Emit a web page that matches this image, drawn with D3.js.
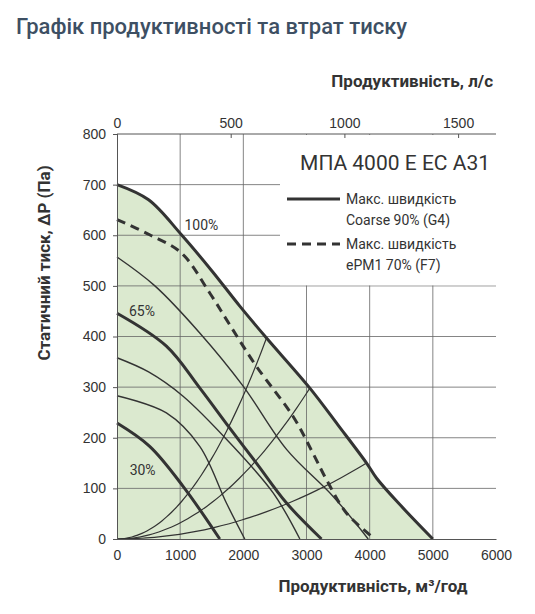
<!DOCTYPE html>
<html><head><meta charset="utf-8">
<script src="https://cdn.jsdelivr.net/npm/d3@7"></script>
<style>
body{margin:0;background:#fff;font-family:Roboto,"Open Sans",sans-serif;}
</style></head><body>
<div id="chart"></div>
<script>
// Flow (m3/h) vs static pressure (Pa)
const xTicks = [0, 1000, 2000, 3000, 4000, 5000, 6000];
const yTicks = [0, 100, 200, 300, 400, 500, 600, 700, 800];
const lsTicks = [0, 500, 1000, 1500];

const maxCurve = [[0,700],[500,670],[1020,601],[1500,530],[1944,460],[2367,397],[3053,298],[3500,225],[3951,150],[4110,120],[4500,65],[5000,0]];
const f7Curve = [[0,631],[517,601],[1020,565],[1468,486],[1800,420],[2207,341],[2788,242],[3100,170],[3317,117],[3634,51],[4083,0]];
const fanCurves = [
  {thick:false, pts:[[0,557],[600,500],[1310,407],[1997,302],[2684,177],[3422,84],[3977,0]]},
  {thick:true,  pts:[[0,446],[782,381],[1300,300],[1785,219],[2207,150],[2684,71],[3237,0]]},
  {thick:false, pts:[[0,358],[500,330],[1046,282],[1785,190],[2472,91],[2895,0]]},
  {thick:false, pts:[[0,283],[782,249],[1310,183],[1732,71],[2023,0]]},
  {thick:true,  pts:[[0,229],[517,183],[1046,104],[1627,0]]}
];
// system curves ending on the max curve
const systemEnds = [[2367,397],[3053,298],[3951,150]];
const speedLabels = [{t:"100%",x:1020,y:601,dx:3,dy:-5},{t:"65%",x:190,y:440,dx:0,dy:0},{t:"30%",x:200,y:126,dx:0,dy:0}];

const W = 535, H = 614;
const svg = d3.select('#chart').append('svg').attr('width', W).attr('height', H);

svg.append('text').attr('x', 16).attr('y', 34).attr('fill', '#3d4f63')
  .attr('font-size', 22).attr('font-weight', 500).text('Графік продуктивності та втрат тиску');

const x = d3.scaleLinear().domain([0, 6000]).range([117, 496]);
const y = d3.scaleLinear().domain([0, 800]).range([539, 134]);
const xl = d3.scaleLinear().domain([0, 6000 / 3.6]).range([117, 496]);

const curveType = d3.curveCatmullRom.alpha(0.5);
const line = d3.line().x(d => x(d[0])).y(d => y(d[1])).curve(curveType);
const area = d3.area().x(d => x(d[0])).y0(y(0)).y1(d => y(d[1])).curve(curveType);

svg.append('path').datum(maxCurve).attr('d', area).attr('fill', '#dbe9cf');

// grid
const g = svg.append('g');
g.selectAll('.vg').data(xTicks.slice(1, -1)).join('line')
  .attr('x1', d => x(d)).attr('x2', d => x(d)).attr('y1', y(0)).attr('y2', y(800))
  .attr('stroke', '#666').attr('stroke-width', 0.8);
g.selectAll('.hg').data(yTicks.slice(1, -1)).join('line')
  .attr('x1', x(0)).attr('x2', x(6000)).attr('y1', d => y(d)).attr('y2', d => y(d))
  .attr('stroke', '#666').attr('stroke-width', 0.8);

// legend background
svg.append('rect').attr('x', 280).attr('y', y(800) + 1).attr('width', x(6000) - 280)
  .attr('height', y(500) - y(800) - 1.5).attr('fill', '#fff');

const curves = svg.append('g').attr('fill', 'none').attr('stroke', '#333');
systemEnds.forEach(e => {
  const k = e[1] / (e[0] * e[0]);
  const pts = d3.range(0, e[0] + 1, e[0] / 30).map(v => [v, k * v * v]);
  curves.append('path').datum(pts).attr('d', line).attr('stroke-width', 1.2);
});
fanCurves.forEach(c => curves.append('path').datum(c.pts).attr('d', line)
  .attr('stroke-width', c.thick ? 3 : 1.4));
curves.append('path').datum(f7Curve).attr('d', line).attr('stroke-width', 3).attr('stroke-dasharray', '9,6');
curves.append('path').datum(maxCurve).attr('d', line).attr('stroke-width', 3);

speedLabels.forEach(l => svg.append('text').attr('x', x(l.x) + l.dx).attr('y', y(l.y) + l.dy)
  .attr('font-size', 14).attr('fill', '#333').text(l.t));

// axes
const fmt = d => d;
svg.append('g').attr('transform', `translate(${x(0)},0)`)
  .call(d3.axisLeft(y).tickValues(yTicks).tickSize(4).tickFormat(fmt))
  .call(a => a.selectAll('text').attr('font-size', 14).attr('fill', '#333').attr('dx', -4))
  .call(a => a.selectAll('line,path').attr('stroke', '#555'));
svg.append('g').attr('transform', `translate(0,${y(0)})`)
  .call(d3.axisBottom(x).tickValues(xTicks).tickSize(0).tickFormat(fmt))
  .call(a => a.selectAll('text').attr('font-size', 14).attr('fill', '#333').attr('dy', '1.3em'))
  .call(a => a.selectAll('line,path').attr('stroke', '#555'));
svg.append('g').attr('transform', `translate(0,${y(800)})`)
  .call(d3.axisTop(xl).tickValues(lsTicks).tickSize(-4).tickFormat(fmt))
  .call(a => a.selectAll('text').attr('font-size', 14).attr('fill', '#333').attr('dy', '-0.2em'))
  .call(a => a.select('.domain').attr('d', `M${x(0)},0H${x(6000)}`))
  .call(a => a.selectAll('line,path').attr('stroke', '#555'));

// legend
svg.append('text').attr('x', 490).attr('y', 170).attr('text-anchor', 'end')
  .attr('font-size', 21).attr('fill', '#333').text('МПА 4000 E EC A31');
const leg = [{dash:null, a:'Макс. швидкість', b:'Coarse 90% (G4)', y:199},
             {dash:'9,6', a:'Макс. швидкість', b:'ePM1 70% (F7)', y:244}];
leg.forEach(l => {
  svg.append('line').attr('x1', 287).attr('x2', 340).attr('y1', l.y).attr('y2', l.y)
    .attr('stroke', '#333').attr('stroke-width', 3).attr('stroke-dasharray', l.dash);
  svg.append('text').attr('x', 346).attr('y', l.y + 5).attr('font-size', 14).attr('fill', '#333').text(l.a);
  svg.append('text').attr('x', 346).attr('y', l.y + 26).attr('font-size', 14).attr('fill', '#333').text(l.b);
});

// axis titles
svg.append('text').attr('x', 493).attr('y', 87).attr('text-anchor', 'end')
  .attr('font-size', 17).attr('font-weight', 'bold').attr('fill', '#333').text('Продуктивність, л/с');
svg.append('text').attr('x', 373).attr('y', 592).attr('text-anchor', 'middle')
  .attr('font-size', 17).attr('font-weight', 'bold').attr('fill', '#333').text('Продуктивність, м³/год');
svg.append('text').attr('transform', 'translate(50,263) rotate(-90)').attr('text-anchor', 'middle')
  .attr('font-size', 17).attr('font-weight', 'bold').attr('fill', '#333').text('Статичний тиск, ΔP (Па)');
</script></body></html>
